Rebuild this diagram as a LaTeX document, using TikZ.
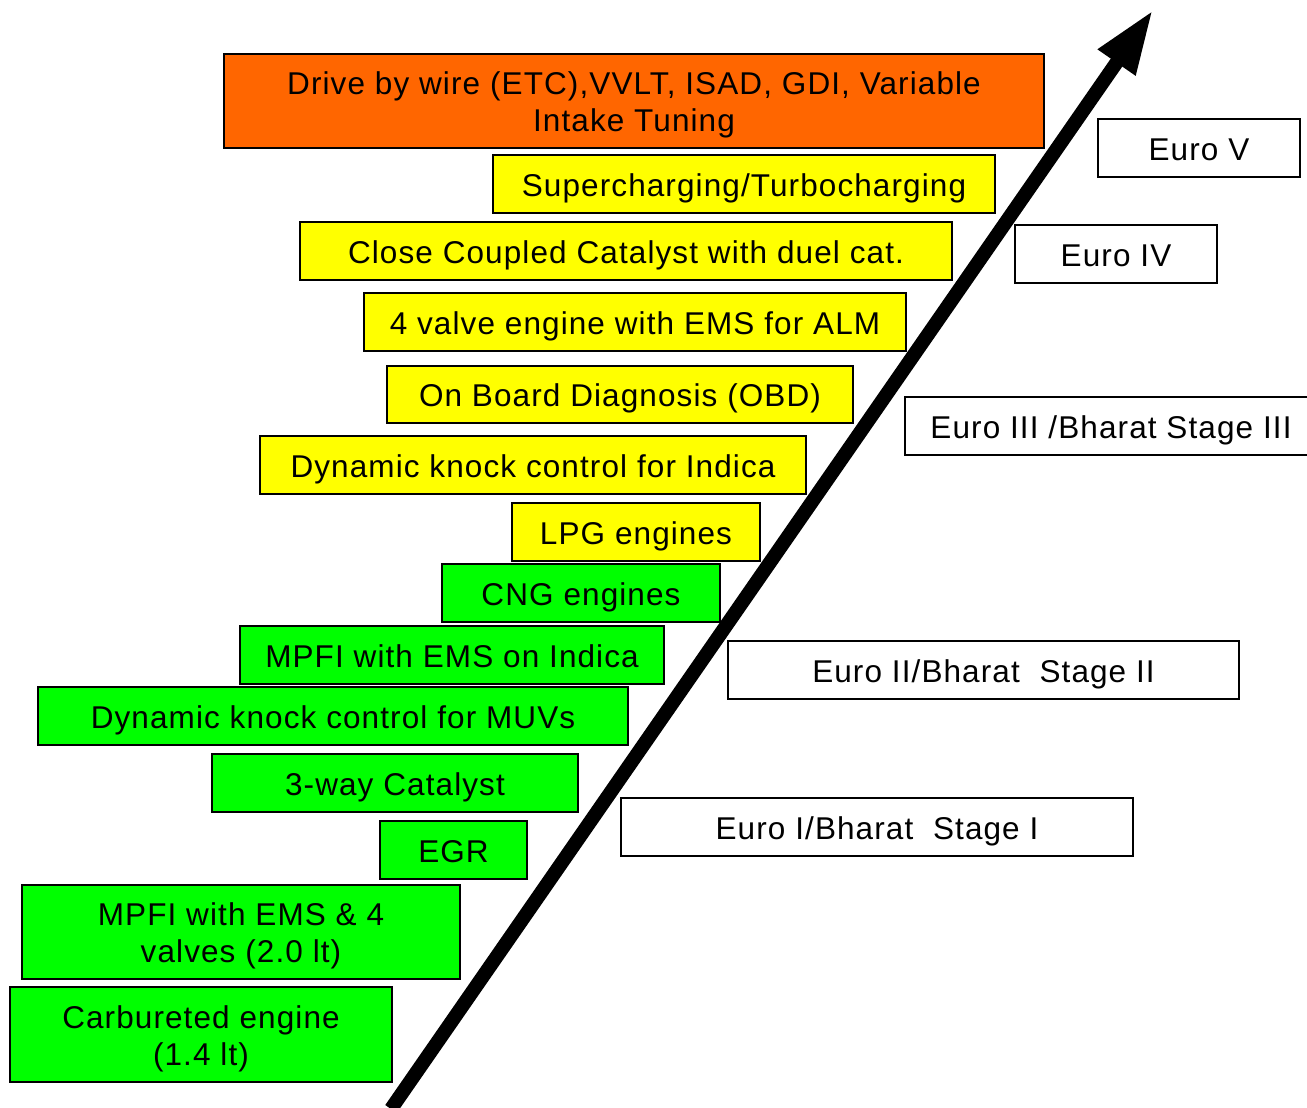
\documentclass[tikz,border=0pt]{standalone}
\usepackage{fontspec}
\setmainfont{Liberation Sans}[LetterSpace=3.5]
\usetikzlibrary{arrows.meta}
\definecolor{orng}{HTML}{FF6600}
\definecolor{yel}{HTML}{FFFF00}
\definecolor{grn}{HTML}{00FF00}
\tikzset{
  box/.style={draw=black, line width=2pt, inner sep=0pt, align=center,
    font=\fontsize{31.5}{37}\selectfont},
  oneline/.style={text height=24pt, text depth=0pt},
  bigarrow/.style={line width=14pt, -{Triangle[length=64pt,width=42pt]}}
}
\newcommand\topstrut{\rule{0pt}{31pt}}
\newcommand\bx[8][oneline]{\node[box, #1, fill=#3, minimum width={(#6-#4)*1pt}, minimum height={(#7-#5)*1pt}] (#2) at ({(#4+#6)/2},{(#5+#7)/2}) {#8};}
\begin{document}
\begin{tikzpicture}[x=1pt,y=-1pt]
\useasboundingbox (0,0) rectangle (1307,1108);
% technology boxes
\bx[]{dbw}{orng}{224}{54}{1044}{148}{\topstrut Drive by wire (ETC),VVLT, ISAD, GDI, Variable\\Intake Tuning}
\bx{sup}{yel}{493}{155}{995}{213}{Supercharging/Turbocharging}
\bx{ccc}{yel}{300}{222}{952}{280}{Close Coupled Catalyst with duel cat.}
\bx{fvl}{yel}{364}{293}{906}{351}{4 valve engine with EMS for ALM}
\bx{obd}{yel}{387}{366}{853}{423}{On Board Diagnosis (OBD)}
\bx{dki}{yel}{260}{436}{806}{494}{Dynamic knock control for Indica}
\bx{lpg}{yel}{512}{503}{760}{561}{LPG engines}
\bx{cng}{grn}{442}{564}{720}{622}{CNG engines}
\bx{mpi}{grn}{240}{626}{664}{684}{MPFI with EMS on Indica}
\bx{dkm}{grn}{38}{687}{628}{745}{Dynamic knock control for MUVs}
\bx{twc}{grn}{212}{754}{578}{812}{3-way Catalyst}
\bx{egr}{grn}{380}{821}{527}{879}{EGR}
\bx[]{mpf}{grn}{22}{885}{460}{979}{\topstrut MPFI with EMS \& 4\\valves (2.0 lt)}
\bx[]{carb}{grn}{10}{987}{392}{1082}{\topstrut Carbureted engine\\(1.4 lt)}
% emission norms
\bx{e5}{white}{1098}{119}{1300}{177}{Euro V}
\bx{e4}{white}{1015}{225}{1217}{283}{Euro IV}
\bx{e3}{white}{905}{397}{1317}{455}{Euro III /Bharat Stage III}
\bx{e2}{white}{728}{641}{1239}{699}{Euro II/Bharat\ \ Stage II}
\bx{e1}{white}{621}{798}{1133}{856}{Euro I/Bharat\ \ Stage I}
% arrow
\coordinate (as) at (391,1109);
\coordinate (at) at (1153,10);
\draw[bigarrow] (as) -- (at);
\end{tikzpicture}
\end{document}
